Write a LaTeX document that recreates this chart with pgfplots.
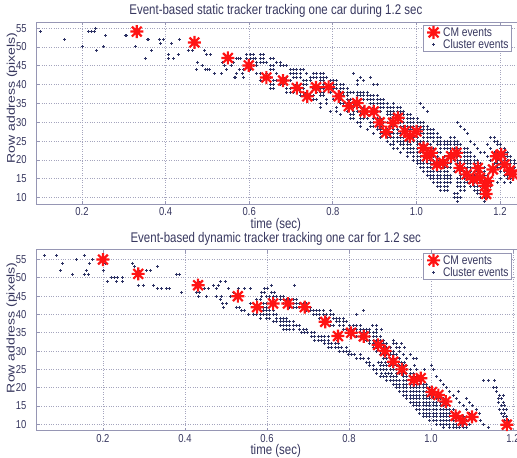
\documentclass[border=0pt]{standalone}
\usepackage{pgfplots}
\pgfplotsset{compat=1.18}
\usepackage{pgfplotstable}
\usepackage{fontspec}
\setmainfont{Liberation Sans}
\newfontfamily\sfont[FakeStretch=0.82]{Liberation Sans}
\newfontfamily\rfont[FakeStretch=1.25]{Liberation Sans}
\definecolor{txt}{RGB}{55,55,95}
\definecolor{axiscol}{RGB}{150,150,180}
\definecolor{gridcol}{RGB}{165,165,190}
\definecolor{dotcol}{RGB}{45,50,100}
\definecolor{starcol}{RGB}{255,20,20}
\pgfdeclareplotmark{mstar}{%
 \pgfpathmoveto{\pgfqpoint{-\pgfplotmarksize}{0pt}}\pgfpathlineto{\pgfqpoint{\pgfplotmarksize}{0pt}}%
 \pgfpathmoveto{\pgfqpoint{0pt}{-\pgfplotmarksize}}\pgfpathlineto{\pgfqpoint{0pt}{\pgfplotmarksize}}%
 \pgfpathmoveto{\pgfqpoint{-0.75\pgfplotmarksize}{-0.75\pgfplotmarksize}}\pgfpathlineto{\pgfqpoint{0.75\pgfplotmarksize}{0.75\pgfplotmarksize}}%
 \pgfpathmoveto{\pgfqpoint{-0.75\pgfplotmarksize}{0.75\pgfplotmarksize}}\pgfpathlineto{\pgfqpoint{0.75\pgfplotmarksize}{-0.75\pgfplotmarksize}}%
 \pgfusepathqstroke}

\pgfplotstableread{
x y
331 54.1
469 51.2
549 47.1
599 45.1
641 41.9
681 41.1
714 39.1
739 36.9
760 39.3
790 39.4
814 36.9
838 34.3
858 35.1
876 32.9
898 32.9
912 30.0
928 27.4
944 29.9
956 31.2
972 27.6
984 26.3
1000 27.6
1017 23.2
1025 21.0
1036 21.9
1049 18.8
1064 19.3
1083 21.0
1096 21.9
1104 17.9
1120 16.2
1136 14.9
1147 17.9
1152 15.3
1164 13.1
1167 11.0
1171 14.4
1183 17.5
1191 21.0
1203 21.5
1211 18.8
1223 17.2
1231 16.2
}\topcm

\pgfplotstableread{
x y
100 54
159 52
200 50
216 54
222 54
229 54
233 55
235 49
252 50
257 53
303 53
306 53
329 50
351 47
357 52
360 52
367 49
385 52
388 51
395 52
407 48
408 47
419 47
415 51
433 52
430 48
454 49
465 49
476 46
474 44
488 45
494 49
499 48
507 48
496 44
500 44
505 44
516 43
534 43
536 46
542 45
546 44
557 45
563 46
565 42
568 42
569 47
575 47
580 47
576 44
583 43
586 42
594 48
594 47
606 46
614 47
602 48
610 48
626 48
634 48
602 47
610 47
626 47
634 47
650 47
658 47
618 46
626 46
634 46
642 46
666 46
674 46
610 45
618 45
650 45
658 45
674 45
682 45
690 45
586 44
602 44
650 44
658 44
698 44
706 44
714 44
722 44
730 44
570 43
618 43
626 43
642 43
666 43
698 43
706 43
714 43
722 43
738 43
754 43
762 43
770 43
778 43
850 43
634 42
642 42
650 42
682 42
690 42
706 42
714 42
722 42
746 42
754 42
762 42
770 42
778 42
786 42
866 42
890 42
626 41
634 41
658 41
666 41
690 41
698 41
730 41
738 41
746 41
770 41
778 41
794 41
802 41
810 41
858 41
874 41
650 40
658 40
674 40
682 40
714 40
722 40
730 40
738 40
778 40
786 40
794 40
802 40
810 40
818 40
826 40
858 40
898 40
906 40
650 39
658 39
690 39
698 39
722 39
730 39
754 39
762 39
770 39
778 39
802 39
810 39
818 39
826 39
834 39
690 38
698 38
706 38
722 38
730 38
738 38
762 38
770 38
778 38
794 38
818 38
826 38
834 38
842 38
850 38
858 38
866 38
874 38
882 38
722 37
730 37
746 37
754 37
770 37
778 37
810 37
818 37
826 37
834 37
858 37
866 37
874 37
882 37
890 37
898 37
906 37
746 36
754 36
762 36
786 36
802 36
818 36
834 36
842 36
850 36
866 36
874 36
882 36
890 36
898 36
906 36
914 36
922 36
770 35
786 35
818 35
826 35
834 35
842 35
850 35
858 35
890 35
898 35
906 35
914 35
922 35
930 35
946 35
1010 35
770 34
810 34
834 34
842 34
850 34
858 34
866 34
874 34
898 34
906 34
914 34
922 34
930 34
938 34
946 34
954 34
962 34
1018 34
794 33
810 33
834 33
850 33
858 33
866 33
874 33
882 33
906 33
914 33
930 33
938 33
946 33
954 33
962 33
970 33
1026 33
818 32
842 32
850 32
866 32
874 32
882 32
890 32
898 32
930 32
938 32
946 32
954 32
962 32
970 32
978 32
986 32
842 31
850 31
866 31
874 31
882 31
898 31
906 31
914 31
938 31
946 31
954 31
962 31
970 31
978 31
986 31
994 31
1002 31
858 30
866 30
890 30
898 30
906 30
914 30
922 30
930 30
954 30
962 30
970 30
978 30
986 30
994 30
1002 30
1010 30
1018 30
1098 30
866 29
890 29
898 29
906 29
914 29
938 29
946 29
962 29
970 29
978 29
986 29
994 29
1002 29
1010 29
1018 29
1026 29
1106 29
882 28
906 28
914 28
922 28
930 28
946 28
954 28
970 28
978 28
986 28
994 28
1002 28
1010 28
1018 28
1026 28
1034 28
1042 28
1114 28
898 27
914 27
922 27
938 27
946 27
954 27
962 27
978 27
986 27
994 27
1002 27
1010 27
1018 27
1026 27
1034 27
1042 27
1050 27
1122 27
914 26
930 26
938 26
946 26
954 26
962 26
970 26
986 26
994 26
1002 26
1018 26
1026 26
1034 26
1042 26
1050 26
1058 26
1082 26
1090 26
1178 26
1186 26
930 25
946 25
954 25
962 25
970 25
978 25
994 25
1002 25
1010 25
1018 25
1026 25
1042 25
1050 25
1058 25
1066 25
1074 25
1082 25
1090 25
1098 25
1130 25
1186 25
1194 25
938 24
946 24
962 24
970 24
978 24
986 24
1002 24
1010 24
1018 24
1026 24
1034 24
1050 24
1058 24
1066 24
1074 24
1082 24
1090 24
1098 24
1106 24
1138 24
1170 24
1194 24
1202 24
946 23
954 23
970 23
978 23
986 23
994 23
1002 23
1010 23
1018 23
1026 23
1034 23
1042 23
1058 23
1066 23
1074 23
1082 23
1090 23
1098 23
1106 23
1114 23
1122 23
1146 23
1178 23
1202 23
1210 23
962 22
978 22
986 22
994 22
1002 22
1010 22
1018 22
1026 22
1034 22
1042 22
1050 22
1058 22
1074 22
1082 22
1090 22
1098 22
1106 22
1114 22
1122 22
1130 22
1154 22
1162 22
1186 22
1194 22
1202 22
1210 22
1218 22
978 21
994 21
1002 21
1010 21
1018 21
1026 21
1034 21
1042 21
1050 21
1066 21
1082 21
1090 21
1098 21
1106 21
1114 21
1122 21
1130 21
1138 21
1170 21
1186 21
1194 21
1202 21
1210 21
1218 21
1226 21
994 20
1002 20
1010 20
1018 20
1026 20
1034 20
1042 20
1050 20
1058 20
1066 20
1074 20
1090 20
1098 20
1106 20
1114 20
1122 20
1130 20
1138 20
1146 20
1178 20
1194 20
1202 20
1210 20
1218 20
1226 20
1234 20
1002 19
1010 19
1018 19
1026 19
1034 19
1042 19
1050 19
1058 19
1066 19
1074 19
1082 19
1098 19
1106 19
1114 19
1122 19
1130 19
1138 19
1146 19
1154 19
1186 19
1194 19
1202 19
1210 19
1218 19
1226 19
1234 19
1242 19
1010 18
1018 18
1026 18
1034 18
1042 18
1050 18
1058 18
1066 18
1074 18
1082 18
1098 18
1106 18
1114 18
1122 18
1130 18
1138 18
1146 18
1154 18
1162 18
1194 18
1202 18
1210 18
1218 18
1226 18
1234 18
1018 17
1026 17
1034 17
1042 17
1050 17
1058 17
1066 17
1074 17
1090 17
1106 17
1114 17
1122 17
1130 17
1138 17
1146 17
1154 17
1162 17
1178 17
1202 17
1210 17
1218 17
1226 17
1234 17
1026 16
1034 16
1042 16
1050 16
1058 16
1066 16
1074 16
1082 16
1106 16
1114 16
1122 16
1130 16
1138 16
1146 16
1154 16
1162 16
1170 16
1210 16
1218 16
1226 16
1034 15
1042 15
1050 15
1058 15
1066 15
1074 15
1082 15
1098 15
1106 15
1114 15
1122 15
1130 15
1138 15
1146 15
1154 15
1162 15
1170 15
1202 15
1218 15
1226 15
1042 14
1050 14
1058 14
1066 14
1074 14
1082 14
1098 14
1106 14
1114 14
1122 14
1130 14
1138 14
1146 14
1154 14
1162 14
1170 14
1178 14
1194 14
1210 14
1226 14
1050 13
1058 13
1066 13
1074 13
1098 13
1106 13
1114 13
1130 13
1138 13
1146 13
1154 13
1162 13
1170 13
1178 13
1058 12
1066 12
1074 12
1106 12
1114 12
1138 12
1146 12
1154 12
1162 12
1170 12
1090 11
1098 11
1146 11
1154 11
1162 11
1090 10
1098 10
1106 10
1154 10
1162 10
1170 10
1098 9
1162 9
}\topdots

\pgfplotstableread{
x y
200 55.0
286 51.1
432 48.0
529 45.0
576 42.0
615 43.0
651 43.0
692 42.0
742 38.0
773 34.1
805 35.0
836 34.0
871 31.7
888 30.0
908 27.1
929 25.0
958 22.1
975 22.6
1002 18.8
1018 18.0
1036 16.2
1060 12.3
1077 11.0
1100 12.0
1185 9.9
}\botcm

\pgfplotstableread{
x y
57 56
87 56
102 54
97 52
126 51
136 55
154 56
159 52
154 51
164 51
167 54
175 55
201 52
207 54
211 49
221 50
229 50
235 50
234 49
248 50
248 49
273 54
278 53
286 52
282 51
290 51
286 48
298 48
307 52
316 52
324 48
333 53
333 47
343 47
355 47
362 47
380 51
386 51
392 46
433 49
429 46
435 46
433 45
447 47
457 47
453 45
469 48
481 48
486 49
476 47
477 45
490 45
486 44
492 43
495 42
502 43
498 49
506 47
518 46
510 45
530 47
546 47
559 47
526 42
533 42
538 41
546 41
555 40
567 40
575 40
559 43
567 43
573 42
579 42
610 48
667 48
594 47
602 47
587 46
595 46
610 46
618 46
587 45
599 45
607 45
615 45
623 45
632 45
640 45
575 44
583 44
607 44
615 44
632 44
640 44
648 44
656 44
664 44
672 44
591 43
599 43
640 43
648 43
656 43
664 43
672 43
680 43
689 43
697 43
583 42
591 42
599 42
656 42
664 42
672 42
680 42
689 42
705 42
591 41
599 41
607 41
615 41
697 41
705 41
713 41
721 41
729 41
737 41
754 41
835 41
583 40
591 40
599 40
607 40
615 40
623 40
713 40
721 40
729 40
737 40
745 40
754 40
762 40
819 40
583 39
599 39
607 39
623 39
632 39
640 39
648 39
729 39
745 39
762 39
770 39
778 39
786 39
615 38
623 38
632 38
640 38
648 38
656 38
664 38
745 38
754 38
770 38
778 38
786 38
794 38
632 37
640 37
648 37
656 37
664 37
672 37
680 37
754 37
762 37
778 37
786 37
802 37
810 37
819 37
827 37
858 37
866 37
640 36
648 36
656 36
664 36
680 36
689 36
697 36
786 36
794 36
802 36
810 36
819 36
827 36
835 36
843 36
851 36
868 36
880 36
684 35
692 35
700 35
709 35
717 35
802 35
810 35
819 35
827 35
835 35
843 35
851 35
859 35
868 35
709 34
717 34
725 34
733 34
741 34
749 34
819 34
827 34
835 34
843 34
851 34
859 34
868 34
876 34
717 33
725 33
733 33
741 33
750 33
773 33
843 33
851 33
859 33
868 33
876 33
884 33
908 33
741 32
750 32
758 32
766 32
774 32
851 32
859 32
868 32
876 32
884 32
892 32
908 32
916 32
928 32
750 31
758 31
766 31
774 31
782 31
794 31
859 31
868 31
876 31
884 31
892 31
900 31
916 31
924 31
936 31
778 30
786 30
794 30
802 30
868 30
876 30
884 30
892 30
900 30
908 30
924 30
798 29
806 29
814 29
827 29
876 29
884 29
892 29
900 29
908 29
916 29
932 29
949 29
819 28
827 28
835 28
847 28
884 28
892 28
900 28
908 28
916 28
924 28
941 28
957 28
965 28
843 27
851 27
871 27
880 27
888 27
896 27
904 27
912 27
920 27
928 27
936 27
851 26
859 26
876 26
884 26
892 26
900 26
908 26
916 26
924 26
932 26
941 26
960 26
1002 26
859 25
868 25
876 25
884 25
892 25
900 25
908 25
916 25
924 25
932 25
941 25
949 25
965 25
985 25
1006 25
868 24
880 24
888 24
896 24
904 24
916 24
924 24
932 24
941 24
949 24
957 24
876 23
884 23
892 23
900 23
908 23
916 23
932 23
941 23
949 23
957 23
965 23
1014 23
892 22
900 22
908 22
916 22
924 22
932 22
941 22
949 22
957 22
965 22
973 22
1022 22
1128 22
1140 22
1156 22
908 21
916 21
924 21
932 21
941 21
949 21
957 21
965 21
973 21
981 21
989 21
1030 21
916 20
924 20
932 20
941 20
949 20
957 20
965 20
973 20
981 20
989 20
997 20
1038 20
1152 20
1160 20
924 19
932 19
941 19
949 19
957 19
965 19
973 19
981 19
989 19
997 19
1006 19
1046 19
1066 19
1160 19
932 18
941 18
949 18
957 18
965 18
973 18
981 18
989 18
997 18
1006 18
1014 18
1054 18
1168 18
1176 18
941 17
949 17
957 17
965 17
973 17
981 17
989 17
997 17
1006 17
1014 17
1022 17
1030 17
1062 17
1086 17
1164 17
1172 17
949 16
957 16
965 16
973 16
981 16
989 16
997 16
1006 16
1014 16
1022 16
1030 16
1038 16
1070 16
1094 16
1164 16
1176 16
957 15
965 15
973 15
981 15
989 15
997 15
1006 15
1014 15
1022 15
1030 15
1038 15
1046 15
1079 15
1102 15
1172 15
1180 15
965 14
973 14
981 14
989 14
997 14
1006 14
1014 14
1022 14
1030 14
1038 14
1046 14
1054 14
1087 14
1110 14
1168 14
1176 14
1184 14
973 13
981 13
989 13
997 13
1006 13
1014 13
1022 13
1030 13
1038 13
1046 13
1054 13
1062 13
1095 13
1118 13
1172 13
1180 13
981 12
989 12
997 12
1006 12
1014 12
1022 12
1030 12
1038 12
1046 12
1054 12
1062 12
1070 12
1078 12
1103 12
1176 12
1184 12
997 11
1006 11
1014 11
1022 11
1030 11
1038 11
1046 11
1054 11
1063 11
1071 11
1079 11
1087 11
1120 11
1180 11
1188 11
1014 10
1022 10
1030 10
1038 10
1046 10
1054 10
1063 10
1071 10
1079 10
1087 10
1095 10
1128 10
1184 10
1030 9
1046 9
1054 9
1062 9
1070 9
1078 9
1087 9
1140 9
}\botdots

\pgfplotsset{olimg/.style={legend image code/.code={%
  \draw[mark repeat=2,mark phase=2,##1,overlay] plot coordinates {(0cm,0cm) (0.3cm,0cm) (0.6cm,0cm)};
  \path[draw=none,fill=none] (0cm,-2pt) rectangle (0.6cm,2pt);}}}

\pgfplotsset{mystyle/.style={
  scale only axis,
  axis line style={axiscol, line width=1.2pt},
  grid=major,
  major grid style={gridcol, dotted, line width=0.8pt},
  tick style={axiscol, line width=0.8pt},
  major tick length=3pt,
  tick align=inside,
  xtick={200,400,600,800,1000,1200},
  xticklabels={0.2,0.4,0.6,0.8,1.0,1.2},
  ytick={10,15,...,55},
  /pgf/number format/assume math mode=true,
  tick label style={font=\sfont\fontsize{11.5}{13}\selectfont, text=txt},
  xticklabel style={anchor=base, yshift=-11.5pt},
  yticklabel style={anchor=east, inner sep=0pt, xshift=-10pt},
  xlabel style={font=\sfont\fontsize{14}{16}\selectfont, text=txt},
  ylabel style={font=\rfont\fontsize{11.2}{13}\selectfont, text=txt},
  title style={font=\sfont\fontsize{14}{16}\selectfont, text=txt, at={(axis description cs:0.5,1)}, anchor=base, yshift=1.5pt, xshift=-2.5pt},
  xlabel style={at={(axis description cs:0.5,0)}, anchor=base, yshift=-24pt, xshift=-2.5pt},
  xlabel={time (sec)},
  ylabel={Row address (pixels)},
  legend style={anchor=north east, draw=axiscol, line width=0.8pt, fill=white,
    font=\sfont\fontsize{12.5}{14}\selectfont, text=txt, inner xsep=2pt, inner ysep=1.5pt,
    nodes={inner sep=1pt, text height=8.5pt, text depth=0.5pt}, row sep=1pt},
  legend cell align=left,
  reverse legend,
  dots/.style={only marks, mark=+, mark size=1.5pt, line width=1.0pt, color=dotcol},
  stars/.style={only marks, mark=mstar, mark size=6.5pt, line width=2.2pt, color=starcol},
}}

\begin{document}
\begin{tikzpicture}
\begin{axis}[mystyle,
  at={(36.7pt,253.5pt)}, anchor=south west,
  width=483.3pt, height=182pt,
  xmin=91.6, xmax=1247.8, ymin=8.2, ymax=56.5,
  title={Event-based static tracker tracking one car during 1.2 sec},
  ylabel style={at={(axis description cs:-0.051,0.585)}, anchor=center},
  legend style={at={(rel axis cs:0.9835,0.986)}},
]
\addplot[dots, olimg] table {\topdots};
\addlegendentry{Cluster events}
\addplot[stars, olimg] table {\topcm};
\addlegendentry{CM events}
\end{axis}
\begin{axis}[mystyle,
  at={(36.5pt,27.3pt)}, anchor=south west,
  width=483.5pt, height=181pt,
  xmin=38, xmax=1217, ymin=8.25, ymax=57.7,
  title={Event-based dynamic tracker tracking one car for 1.2 sec},
  ylabel style={at={(axis description cs:-0.051,0.569)}, anchor=center},
  legend style={at={(rel axis cs:0.9834,0.982)}},
]
\addplot[dots, olimg] table {\botdots};
\addlegendentry{Cluster events}
\addplot[stars, olimg] table {\botcm};
\addlegendentry{CM events}
\end{axis}
\pgfresetboundingbox
\useasboundingbox (0,0) rectangle (517pt,458pt);
\end{tikzpicture}
\end{document}
